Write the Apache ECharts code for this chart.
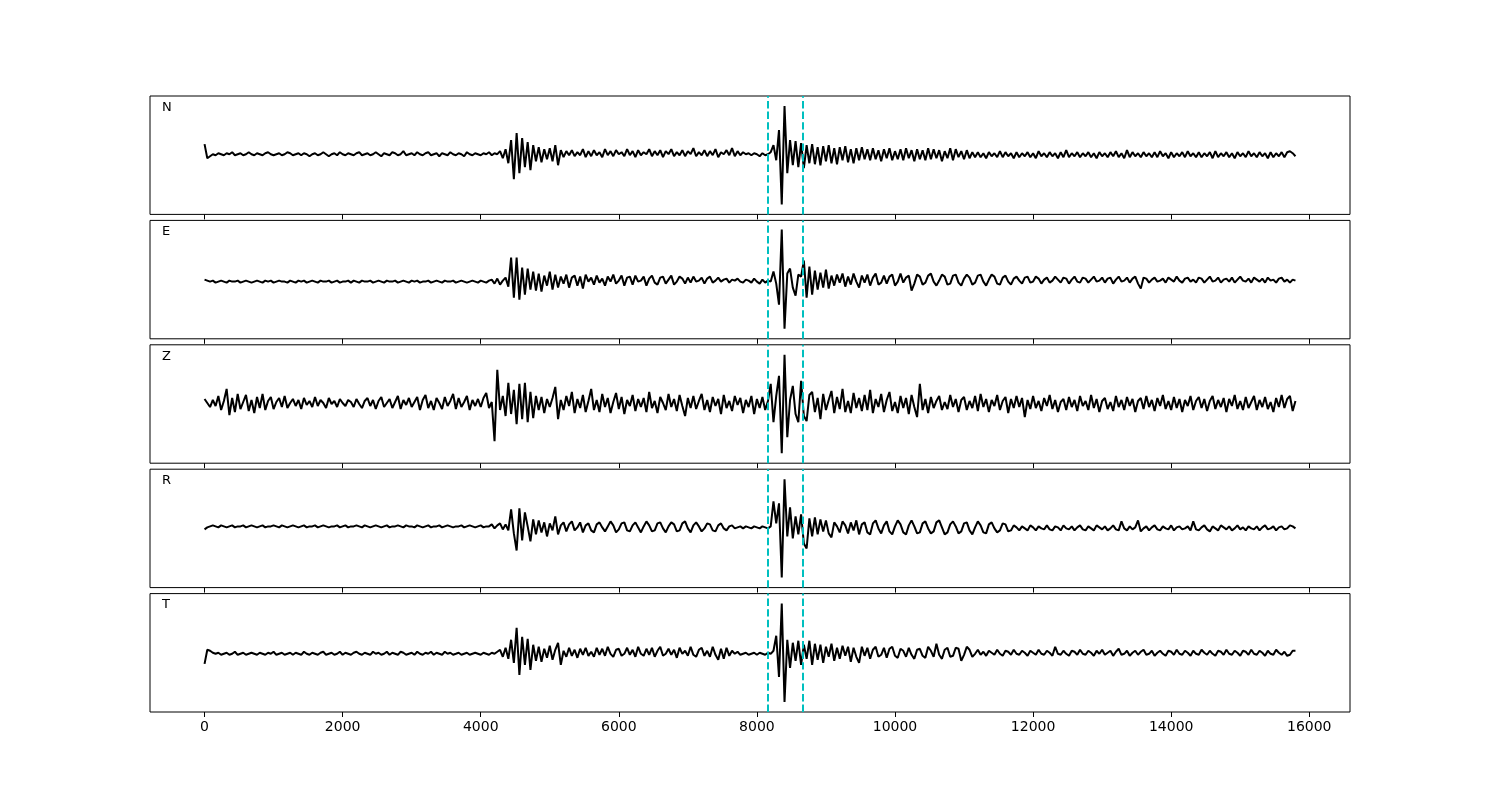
<!DOCTYPE html>
<html><head><meta charset="utf-8">
<script src="https://cdn.jsdelivr.net/npm/echarts@6/dist/echarts.min.js"></script>
<style>html,body{margin:0;padding:0;background:#fff}#c{width:1500px;height:800px}</style>
</head><body><div id="c"></div>
<script>
// sample interval of the traces (time units on the x axis)
const STEP = 40;
const channels = ['N', 'E', 'Z', 'R', 'T'];
const picks = [8160, 8660];
const xTicks = [0, 2000, 4000, 6000, 8000, 10000, 12000, 14000, 16000];
const xMin = -790, xMax = 16590;
const yLimit = 59;

const traceN = [
11,-3,-1,1,0,2,1,0,2,1,3,0,1,2,0,1,3,1,0,2,
1,0,2,3,1,0,1,2,0,1,3,2,0,1,2,0,2,1,-1,1,
2,0,1,3,1,-1,1,2,0,3,1,0,2,1,0,2,3,0,1,2,
0,1,3,1,-1,2,1,0,3,2,0,1,4,0,1,2,0,3,1,0,
2,3,0,1,2,-1,2,1,0,3,1,0,2,1,-1,3,1,0,2,1,
0,2,1,3,0,2,1,4,-3,6,-8,15,-24,22,-18,17,-12,13,-15,10,
-6,8,-7,6,-4,7,-6,10,-10,5,-2,4,0,5,-1,3,0,6,-2,4,
-1,5,0,3,-2,6,0,4,-1,5,1,3,-1,6,0,4,-2,5,0,3,
1,6,-1,4,0,5,-2,4,1,6,-1,3,0,5,-1,4,1,7,-1,3,
0,5,-1,4,0,6,-2,3,1,5,0,7,-1,4,0,3,1,2,0,2,
1,-1,2,0,1,3,10,-5,25,-49,49,-18,15,-10,14,-12,12,-13,10,-8,
11,-9,8,-10,9,-6,10,-8,7,-9,8,-5,9,-7,6,-8,7,-5,8,-4,
6,-5,7,-4,5,-6,6,-3,7,-5,4,-4,6,-5,7,-3,5,-6,6,-4,
5,-5,7,-4,6,-3,5,-6,4,-3,7,-5,6,-2,4,-4,5,-3,3,-2,
3,-2,2,-3,3,-1,2,-2,4,-2,3,-1,2,-3,3,-2,2,-1,3,-2,
2,-3,4,-1,2,-2,3,-1,2,-3,3,-2,5,-2,2,-1,3,-2,2,-1,
3,-2,2,-3,3,-1,2,-2,3,-1,4,-2,2,-3,5,-2,3,-1,2,-2,
3,-1,2,-2,3,-2,4,-1,2,-3,3,-2,2,-1,3,-2,4,-1,2,-2,
3,-2,2,-1,3,-3,4,-2,2,-1,3,-2,2,-3,3,-1,2,-2,4,-1,
2,-2,3,-1,2,-3,3,-2,2,-1,3,-2,3,4,2,-1
];

const traceE = [
0,-1,-2,-1,-3,-2,-1,-2,-3,-1,-2,-2,-1,-3,-2,-1,-2,-3,-2,-1,
-2,-3,-1,-2,-1,-3,-2,-1,-2,-2,-3,-1,-2,-3,-1,-2,-1,-3,-2,-1,
-2,-3,-1,-2,-2,-1,-3,-2,-1,-3,-2,-2,-1,-3,-1,-2,-3,-1,-2,-2,
-1,-3,-2,-1,-2,-3,-1,-2,-2,-1,-3,-2,-1,-2,-3,-1,-2,-1,-3,-2,
-2,-1,-3,-2,-1,-2,-3,-1,-2,-2,-1,-3,-2,-1,-2,-3,-2,-1,-2,-3,
-1,-2,-3,-1,0,-4,1,-5,-1,2,-7,22,-18,22,-20,12,-15,11,-10,8,
-11,6,-12,4,-6,8,-10,5,-8,3,-4,5,-8,2,4,-6,3,-9,5,-2,
2,-5,4,-3,1,-6,3,-2,5,-4,-1,4,-6,2,3,-5,4,-2,-1,3,
-6,1,4,-3,-5,2,3,-4,0,4,-5,-2,3,1,-4,2,-3,3,-2,-1,
2,-4,1,3,-3,-1,2,-2,0,1,-3,0,-1,1,-2,-3,0,-1,-3,1,
-2,-4,0,-3,-1,-2,8,-4,-25,50,-49,6,11,-8,-16,5,3,19,-18,13,
-15,9,-10,7,-8,10,-9,4,-6,5,-3,6,-7,3,-5,6,-2,-8,4,-3,
5,-6,2,6,-5,-3,4,-4,3,5,-6,-2,6,-3,2,4,-11,-4,5,3,
-5,-3,4,6,-2,-6,-1,5,3,-5,-4,4,5,-3,-6,1,5,2,-5,-3,
4,5,-2,-6,0,5,3,-4,-5,2,4,-2,-5,1,3,-1,-4,2,3,-3,
-2,3,1,-4,0,2,-3,-1,3,0,-3,2,1,-4,0,3,-2,-3,2,1,
-3,0,3,-2,-1,2,-3,1,2,-4,0,3,-2,-1,2,-3,1,3,-4,-9,
2,1,-3,0,2,-2,-1,1,-3,2,0,-2,3,-1,-3,1,2,-2,0,-3,
2,1,-3,0,3,-2,-1,2,-3,0,1,-2,2,-3,0,3,-1,-2,1,-3,
2,0,-2,1,-3,2,-1,0,-3,1,2,-2,0,-3,0,-1
];

const traceZ = [
5,1,-3,4,-2,8,-6,3,15,-11,6,-8,10,-5,2,9,-7,4,-9,7,
-4,10,-6,3,7,-5,2,6,-3,8,-4,1,5,-2,4,-5,6,-1,3,-3,
7,-2,4,1,-4,6,0,3,-3,5,1,-2,4,2,-3,5,0,-4,3,6,
-2,4,-5,3,7,-3,1,5,-4,2,8,-5,4,-1,6,-3,2,7,-6,4,
9,-4,3,-6,6,1,-5,7,-2,3,10,-5,6,-3,2,8,-6,4,-2,5,
-3,6,11,-4,2,-37,34,-6,8,-12,21,-10,14,-20,20,-15,21,-18,12,-14,
8,-6,7,-9,5,-3,6,17,-15,4,-6,8,-2,12,-9,5,-4,9,-8,3,
15,-6,4,-8,10,-3,6,-9,2,11,-5,7,-10,4,-2,9,-7,5,-3,6,
-8,12,-4,3,-9,7,1,-6,10,-3,5,-7,9,-2,-12,6,-4,8,-5,3,
10,-6,4,-8,7,-2,5,-10,9,-4,3,-7,8,-1,6,-9,4,-3,8,-10,
5,-4,7,-6,3,20,-18,8,28,-49,49,-33,4,18,-10,-18,23,-12,-17,9,
12,-8,6,-15,10,-6,4,13,-9,7,-5,15,-8,3,-9,11,-4,6,-7,9,
-6,14,-9,5,-3,10,-8,4,12,-7,2,-9,8,-4,6,-10,9,-3,-13,20,
-6,5,-9,7,-4,3,8,-6,2,-5,9,-3,5,-8,4,7,-6,3,-4,8,
-7,10,-3,5,-8,4,-2,9,-6,3,7,-9,5,-4,8,-3,6,-13,4,-5,
8,-4,3,-7,6,-2,9,-5,4,-8,2,5,-6,7,-3,4,-7,8,-2,3,
-6,9,-4,5,-8,3,6,-5,2,-7,8,-3,4,-6,7,-2,5,-8,3,6,
-5,8,-3,4,-7,6,-2,9,-5,3,-6,7,-4,5,-8,4,-2,8,-6,3,
7,-4,5,-7,3,8,-5,4,-3,6,-8,5,-2,9,-5,3,-6,7,-4,2,
8,-6,4,-3,7,-5,2,-8,6,-3,9,-4,5,8,-7,3
];

const traceR = [
-1,1,2,3,2,1,3,2,1,2,3,1,2,2,3,1,2,3,2,1,
2,3,1,2,2,3,2,1,3,2,1,2,3,2,1,2,3,1,2,2,
3,1,2,3,2,1,2,2,3,1,2,3,1,2,2,3,2,1,3,2,
1,2,3,2,1,2,3,1,2,2,3,2,1,3,2,2,1,3,2,1,
2,3,1,2,2,3,1,2,3,2,1,2,2,3,1,2,3,2,1,2,
3,1,2,2,4,0,3,5,-1,4,-2,19,-5,-22,20,-12,16,2,-13,9,
-6,8,-4,6,-8,5,-2,12,-6,3,6,-3,4,7,-2,1,6,-4,3,5,
-2,-4,4,6,1,-3,2,7,3,-4,-1,5,6,-2,-3,3,6,1,-4,2,
7,3,-3,-2,5,6,0,-4,2,6,4,-3,-2,5,7,0,-4,3,6,2,
-3,0,5,4,-2,-3,3,5,0,-2,2,3,0,1,2,0,2,1,0,2,
1,0,2,1,0,2,27,5,25,-49,49,-8,21,-10,12,-6,14,-15,-20,10,
-8,11,-6,9,-3,8,-5,-9,6,2,-4,7,3,-5,6,-2,8,-6,4,6,
-4,-6,5,8,0,-5,3,7,-3,-6,2,8,4,-4,-6,3,8,2,-5,-4,
5,7,0,-5,-3,6,8,1,-6,-4,4,7,2,-5,-3,5,6,-2,-6,1,
7,3,-4,-5,4,6,0,-4,-2,5,4,-3,-2,3,1,-2,2,0,-2,3,
1,-2,2,0,-1,3,-1,-2,2,1,-2,3,0,-1,2,-2,1,3,-1,-2,
2,0,-2,3,1,-1,2,-2,0,3,-1,-2,7,0,-2,2,-1,1,8,-3,
0,2,-2,1,3,-1,-2,2,0,-1,3,-2,1,2,-1,0,2,-2,7,-1,
-2,1,3,-1,-3,2,0,-2,3,1,-1,2,-2,0,3,-1,1,-2,2,0,
-1,2,-2,1,3,-1,0,2,-2,1,2,-1,0,3,2,0
];

const traceT = [
-11,3,2,0,-1,0,-2,-1,0,-2,-1,1,-2,-1,0,-2,-1,0,-1,-2,
0,-1,-2,0,-1,1,-2,-1,0,-2,-1,0,-2,0,-1,-2,1,-1,-2,0,
-1,-2,0,1,-2,-1,0,-2,-1,1,-2,0,-1,-2,0,1,-1,-2,0,-1,
-2,1,-1,0,-2,-1,1,-2,0,-1,-2,1,0,-2,-1,0,-2,1,-1,-2,
0,-1,1,-2,0,-1,-2,1,-1,0,-2,-1,0,-2,-1,0,-2,-1,0,-1,
-2,0,-1,-2,0,-1,1,3,-4,5,-6,13,-10,25,-22,16,-12,14,-17,8,
-8,6,-9,4,-5,7,-7,3,10,-12,2,-4,5,-3,3,-5,4,-2,5,-3,
1,-4,5,-2,4,-3,6,-1,-4,3,4,-3,-1,5,-2,3,-4,6,-1,-3,
4,-2,5,-4,2,6,-3,-1,4,-2,3,-5,5,-1,2,-3,6,-2,-4,3,
5,-3,2,-4,6,-2,-7,4,-6,5,-3,2,-1,1,-2,-1,0,-2,-1,0,
-2,0,-1,-2,0,-1,2,17,-24,49,-49,13,-15,10,-8,12,-12,8,-6,12,
-12,9,-7,8,-10,6,-4,9,-8,5,-6,7,-3,6,-9,5,-4,-10,6,-3,
5,-6,3,6,-4,-2,5,-5,4,6,-3,-5,4,2,-4,5,-2,-6,3,4,
-3,-5,6,2,-4,9,-2,-6,3,5,-4,-3,5,4,-8,-2,6,3,-4,-1,
3,-2,1,-3,2,0,-2,3,-1,-3,2,1,-2,3,-1,-2,2,0,-3,2,
0,-2,3,-1,-2,2,0,-3,6,-1,-2,2,-1,-3,2,1,-2,3,-1,-2,
2,0,-3,2,-1,3,-2,0,2,-3,1,4,-2,-1,2,-3,0,2,-2,1,
3,-2,-1,2,-3,0,2,-1,-3,2,1,-2,3,-1,-2,2,0,-3,2,-1,
-2,3,0,-2,2,-1,-3,2,1,-2,3,-1,-2,2,0,-3,2,1,-2,3,
-1,-2,2,0,-3,2,-1,-2,3,0,-2,1,-3,-2,2,2
];

const traces = [traceN, traceE, traceZ, traceR, traceT];

const chart = echarts.init(document.getElementById('c'), null, { renderer: 'canvas' });
const top0 = 96, panelH = 118.4, pitch = 124.4;
const grids = [], xAxes = [], yAxes = [], series = [], graphics = [];
channels.forEach((ch, k) => {
  const last = k === channels.length - 1;
  grids.push({ left: 150, width: 1200, top: top0 + k * pitch, height: panelH, show: true,
    borderColor: '#000', borderWidth: 1, backgroundColor: 'transparent', containLabel: false });
  xAxes.push({ gridIndex: k, type: 'value', min: xMin, max: xMax, position: 'bottom',
    axisLine: { show: false, onZero: false }, splitLine: { show: false },
    axisTick: { show: true, inside: false, length: 5, lineStyle: { color: '#000', width: 1 }, customValues: xTicks },
    axisLabel: { show: last, customValues: xTicks, color: '#000', fontSize: 14, margin: 8,
      fontFamily: 'DejaVu Sans', formatter: v => String(v) } });
  yAxes.push({ gridIndex: k, type: 'value', min: -yLimit, max: yLimit, show: false,
    splitLine: { show: false } });
  series.push({
    type: 'line', xAxisIndex: k, yAxisIndex: k,
    data: traces[k].map((v, i) => [i * STEP, v]),
    showSymbol: false, symbol: 'none', silent: true,
    lineStyle: { color: '#000', width: 2 },
    emphasis: { disabled: true },
    markLine: { symbol: 'none', silent: true, animation: false, label: { show: false },
      emphasis: { disabled: true },
      lineStyle: { color: '#00bfbf', type: [7.4, 3.2], width: 2 },
      data: picks.map(p => ({ xAxis: p })) }
  });
  graphics.push({ type: 'text', left: 162, top: top0 + k * pitch + 5,
    style: { text: ch, fill: '#000', font: '13px "DejaVu Sans"' } });
});

chart.setOption({
  animation: false,
  backgroundColor: '#fff',
  grid: grids, xAxis: xAxes, yAxis: yAxes, series: series, graphic: graphics
});
</script>
</body></html>
